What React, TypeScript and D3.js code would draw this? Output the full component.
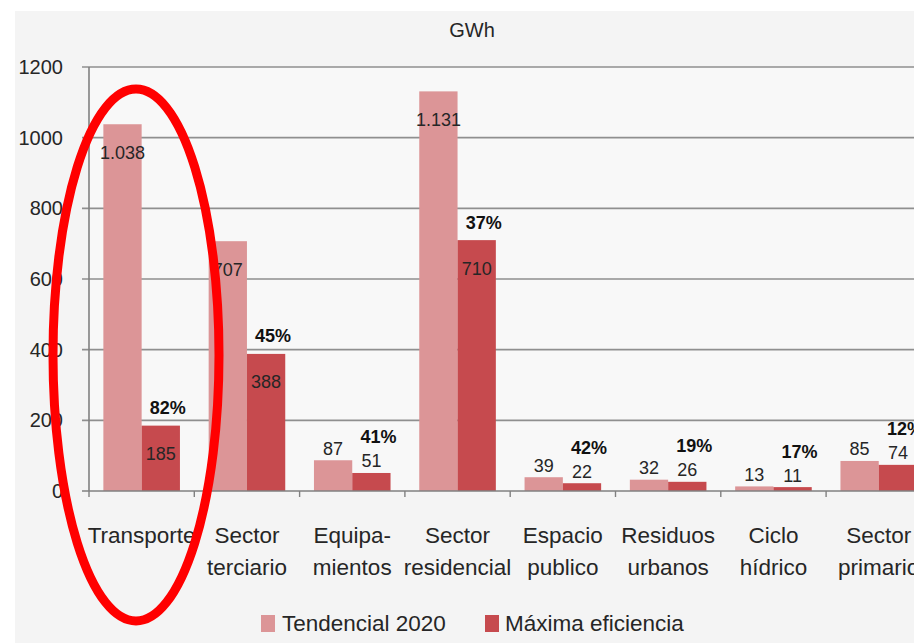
import React from "react";
import * as d3 from "d3";

const categories = ["Transporte", "Sector terciario", "Equipamientos", "Sector residencial", "Espacio publico", "Residuos urbanos", "Ciclo hídrico", "Sector primario"];
const categoryLines = [["Transporte"], ["Sector", "terciario"], ["Equipa-", "mientos"], ["Sector", "residencial"], ["Espacio", "publico"], ["Residuos", "urbanos"], ["Ciclo", "hídrico"], ["Sector", "primario"]];
const seriesNames = ["Tendencial 2020", "Máxima eficiencia"];
const tendencial = [1038, 707, 87, 1131, 39, 32, 13, 85];
const maxima = [185, 388, 51, 710, 22, 26, 11, 74];
const savings = ["82%", "45%", "41%", "37%", "42%", "19%", "17%", "12%"];
const yTicks = [0, 200, 400, 600, 800, 1000, 1200];
const unitTitle = "GWh";

const W = 914;
const H = 643;
const FONT = "'Liberation Sans', Arial, sans-serif";
const colors = ["#dc9597", "#c64a4e"];
const textColor = "#262626";

const plotLeft = 89;
const plotTop = 67;
const plotBottom = 491;
const bandStep = 105.3;

const esLocale = d3.formatLocale({ decimal: ",", thousands: ".", grouping: [3], currency: ["", "€"] });
const fmt = esLocale.format(",");

export default function App() {
  const x0 = d3.scaleBand<string>().domain(categories).range([plotLeft, plotLeft + bandStep * categories.length]).paddingInner(0).paddingOuter(0);
  const x1 = d3.scaleBand<string>().domain(seriesNames).range([0, x0.bandwidth()]).paddingInner(0).paddingOuter(0.375);
  const y = d3.scaleLinear().domain([0, 1200]).range([plotBottom, plotTop]);
  const seriesData = [tendencial, maxima];

  const valueLabelCenter = (v: number) => (v >= 150 ? y(v) + 28 : y(v) - 12);

  return (
    <svg width={W} height={H} style={{ position: "absolute", left: 0, top: 0, display: "block" }} fontFamily={FONT}>
      <rect x={0} y={0} width={W} height={H} fill="#ffffff" />
      <rect x={15} y={11} width={W - 15} height={H - 11} fill="#f4f4f4" />
      <rect x={plotLeft} y={plotTop} width={W - plotLeft} height={plotBottom - plotTop} fill="#f8f8f8" />

      <text x={472} y={37} textAnchor="middle" fontSize={20} fill={textColor}>{unitTitle}</text>

      {/* gridlines */}
      {yTicks.filter((t) => t > 0).map((t) => (
        <line key={"g" + t} x1={plotLeft - 7} x2={W} y1={y(t)} y2={y(t)} stroke="#8f8f8f" strokeWidth={1.6} />
      ))}
      {/* y tick labels */}
      {yTicks.map((t) => (
        <text key={"yt" + t} x={63} y={y(t) + 7} textAnchor="end" fontSize={20} fill={textColor}>{t}</text>
      ))}

      {/* bars */}
      {categories.map((c, i) => (
        <g key={"bars" + c}>
          {seriesNames.map((s, j) => {
            const v = seriesData[j][i];
            return (
              <rect key={s} x={(x0(c) as number) + (x1(s) as number)} y={y(v)} width={x1.bandwidth()} height={plotBottom - y(v)} fill={colors[j]} />
            );
          })}
        </g>
      ))}

      {/* axes */}
      <line x1={plotLeft} x2={plotLeft} y1={plotTop} y2={plotBottom} stroke="#808080" strokeWidth={1.6} />
      <line x1={plotLeft - 7} x2={W} y1={plotBottom} y2={plotBottom} stroke="#808080" strokeWidth={1.6} />
      {categories.map((c) => (
        <line key={"xt" + c} x1={x0(c) as number} x2={x0(c) as number} y1={plotBottom} y2={plotBottom + 6} stroke="#808080" strokeWidth={1.4} />
      ))}

      {/* value labels */}
      {categories.map((c, i) => (
        <g key={"lbl" + c}>
          {seriesNames.map((s, j) => {
            const v = seriesData[j][i];
            const cx = (x0(c) as number) + (x1(s) as number) + x1.bandwidth() / 2;
            return (
              <text key={s} x={cx} y={valueLabelCenter(v) + 6.5} textAnchor="middle" fontSize={18} fill={textColor}>{fmt(v)}</text>
            );
          })}
          {(() => {
            const v = maxima[i];
            const cx = (x0(c) as number) + (x1(seriesNames[1]) as number) + x1.bandwidth() / 2 + 7;
            const cy = v >= 150 ? y(v) - 18 : valueLabelCenter(v) - 24;
            return (
              <text x={cx} y={cy + 6.5} textAnchor="middle" fontSize={18} fontWeight="bold" fill="#111">{savings[i]}</text>
            );
          })()}
        </g>
      ))}

      {/* category labels */}
      {categories.map((c, i) => (
        <text key={"cat" + c} x={(x0(c) as number) + x0.bandwidth() / 2} y={543} textAnchor="middle" fontSize={22.5} fill={textColor}>
          {categoryLines[i].map((ln, k) => (
            <tspan key={k} x={(x0(c) as number) + x0.bandwidth() / 2} dy={k === 0 ? 0 : 32}>{ln}</tspan>
          ))}
        </text>
      ))}

      {/* legend */}
      <g>
        <rect x={261} y={615} width={14} height={17} fill={colors[0]} />
        <text x={282} y={631} fontSize={22.5} fill={textColor}>{seriesNames[0]}</text>
        <rect x={485} y={615} width={14} height={17} fill={colors[1]} />
        <text x={505} y={631} fontSize={22.5} fill={textColor}>{seriesNames[1]}</text>
      </g>

      {/* highlight ellipse */}
      <ellipse cx={136} cy={355} rx={83} ry={266} fill="none" stroke="#ff0000" strokeWidth={9} />
    </svg>
  );
}
